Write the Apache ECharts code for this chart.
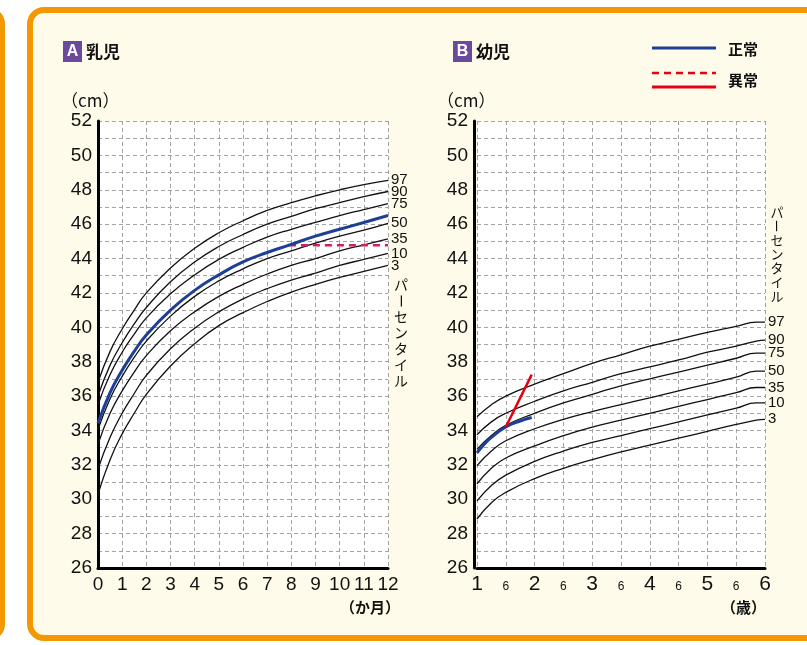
<!DOCTYPE html>
<html>
<head>
<meta charset="utf-8">
<script src="https://cdn.jsdelivr.net/npm/echarts@6/dist/echarts.min.js"></script>
<style>
html,body{margin:0;padding:0;background:#fff;}
#c{width:807px;height:645px;}
</style>
</head>
<body>
<div id="c"></div>
<script>
// ---------- data ----------
const percentileNames = ['97', '90', '75', '50', '35', '10', '3'];

// A: infants, months
const monthsA = [0, 0.5, 1, 1.5, 2, 3, 4, 5, 6, 7, 8, 9, 10, 11, 12];
const a97 = [36.8, 38.6, 39.9, 41.0, 42.0, 43.45, 44.6, 45.5, 46.2, 46.8, 47.25, 47.65, 48.0, 48.3, 48.55];
const a90 = [36.0, 37.8, 39.1, 40.2, 41.15, 42.65, 43.8, 44.7, 45.4, 46.0, 46.45, 46.9, 47.25, 47.6, 47.9];
const a75 = [35.5, 37.25, 38.55, 39.6, 40.55, 41.95, 43.05, 43.95, 44.65, 45.25, 45.7, 46.1, 46.5, 46.85, 47.2];
const a50 = [34.05, 35.85, 37.15, 38.25, 39.2, 40.65, 41.8, 42.7, 43.4, 44.0, 44.45, 44.9, 45.3, 45.65, 46.05];
const a35 = [33.2, 35.0, 36.3, 37.4, 38.35, 39.8, 40.9, 41.8, 42.5, 43.1, 43.6, 44.0, 44.45, 44.8, 45.15];
const a10 = [31.75, 33.6, 35.0, 36.15, 37.2, 38.75, 39.95, 40.9, 41.65, 42.25, 42.75, 43.15, 43.6, 43.95, 44.3];
const a3  = [30.3, 32.3, 33.8, 35.0, 36.1, 37.75, 39.05, 40.1, 40.85, 41.5, 42.05, 42.5, 42.9, 43.25, 43.6];
const normalMonthsA = [0, 0.5, 1, 1.5, 2, 3, 4, 5, 6, 7, 7.9, 9, 10, 11, 12];
const normalA = [34.4, 36.2, 37.5, 38.6, 39.55, 41.0, 42.15, 43.05, 43.8, 44.35, 44.78, 45.3, 45.7, 46.1, 46.5];
const abnormalMonthsA = [7.9, 12];
const abnormalA = [44.78, 44.78];

// B: young children, years
const yearsB = [1, 1.25, 1.5, 2, 2.5, 3, 3.5, 4, 4.5, 5, 5.5, 5.85, 6];
const b97 = [34.8, 35.5, 36.0, 36.7, 37.3, 37.9, 38.4, 38.9, 39.3, 39.7, 40.05, 40.3, 40.3];
const b90 = [33.75, 34.5, 35.0, 35.7, 36.3, 36.8, 37.3, 37.7, 38.1, 38.55, 38.9, 39.2, 39.25];
const b75 = [32.9, 33.7, 34.3, 35.0, 35.6, 36.1, 36.6, 37.0, 37.4, 37.8, 38.2, 38.5, 38.5];
const b50 = [31.95, 32.8, 33.4, 34.1, 34.65, 35.1, 35.5, 35.9, 36.3, 36.7, 37.1, 37.45, 37.45];
const b35 = [30.9, 31.8, 32.4, 33.1, 33.7, 34.2, 34.6, 35.0, 35.4, 35.8, 36.2, 36.5, 36.5];
const b10 = [29.9, 30.8, 31.4, 32.2, 32.8, 33.3, 33.7, 34.1, 34.5, 34.9, 35.3, 35.6, 35.6];
const b3  = [28.85, 29.8, 30.4, 31.2, 31.8, 32.3, 32.75, 33.15, 33.55, 33.95, 34.35, 34.6, 34.65];
const normalYearsB = [1, 1.1, 1.25, 1.5, 1.75, 1.95];
const normalB = [32.7, 33.1, 33.6, 34.2, 34.55, 34.75];
const abnormalYearsB = [1.5, 1.95];
const abnormalB = [34.2, 37.25];

// axis ticks
const yMin = 26, yMax = 52;
const xTicksA = [0, 12];
const xTicksB = [1, 6];
const halfYearLabel = '6';

// ---------- chart ----------
const FONT = '"Liberation Sans", Arial, sans-serif';
const JFONT = '"Noto Sans CJK JP", sans-serif';
const pair = (xs, ys) => xs.map((x, i) => [x, ys[i]]);
const gridColor = '#a3a3a3';
const SMOOTH = 0.5;

function yAxisCfg(gi, offset) {
  return {
    gridIndex: gi, type: 'value', min: yMin, max: yMax, interval: 1, offset: offset,
    axisLine: {show: true, onZero: false, lineStyle: {color: '#000', width: 3}},
    axisTick: {show: false},
    axisLabel: {fontSize: 19, color: '#111', fontFamily: FONT, margin: 6, padding: [4, 0, 0, 0],
      formatter: v => (v % 2 === 0 ? String(v) : '')},
    splitLine: {show: true, lineStyle: {color: gridColor, type: [4, 3], width: 1}}
  };
}
function xAxisBase(gi) {
  return {
    gridIndex: gi, type: 'value',
    axisLine: {show: true, onZero: false, lineStyle: {color: '#000', width: 3}},
    axisTick: {show: false},
    splitLine: {show: true, lineStyle: {color: gridColor, type: [4, 3], width: 1}}
  };
}

function pctSeries(name, xs, ys, gi) {
  return {
    name: name, type: 'line', xAxisIndex: gi, yAxisIndex: gi,
    data: pair(xs, ys), smooth: SMOOTH, showSymbol: false, symbol: 'none',
    lineStyle: {color: '#111', width: 1.3}, silent: true, z: 3,
    endLabel: {show: true, formatter: '{a}', color: '#111', fontSize: 15, fontFamily: FONT, distance: 3}
  };
}

const seriesA = [a97, a90, a75, a50, a35, a10, a3].map((d, i) => pctSeries(percentileNames[i], monthsA, d, 0));
const seriesB = [b97, b90, b75, b50, b35, b10, b3].map((d, i) => pctSeries(percentileNames[i], yearsB, d, 1));

function vText(str, x, y0, lh, fs) {
  const out = [];
  [...str].forEach((ch, i) => {
    const t = {type: 'text', x: x, y: y0 + i * lh,
      style: {text: ch, font: fs + 'px ' + JFONT, fill: '#111', align: 'center', verticalAlign: 'middle'}};
    if (ch === 'ー') { t.rotation = -Math.PI / 2; }
    out.push(t);
  });
  return out;
}

const orange = '#f39800';
const graphics = [
  {type: 'rect', z: -10, shape: {x: 30, y: 10, width: 820, height: 628, r: 14},
    style: {fill: '#fffbea', stroke: orange, lineWidth: 6}},
  {type: 'rect', z: -10, shape: {x: -40, y: 10, width: 42, height: 628, r: 14},
    style: {fill: '#fff', stroke: orange, lineWidth: 6}},
  // titles
  {type: 'rect', shape: {x: 63, y: 41, width: 19, height: 21}, style: {fill: '#6b4a9e'}},
  {type: 'text', x: 72.5, y: 52, style: {text: 'A', font: 'bold 16px ' + FONT, fill: '#fff', align: 'center', verticalAlign: 'middle'}},
  {type: 'text', x: 86, y: 52, style: {text: '乳児', font: 'bold 17px ' + JFONT, fill: '#111', verticalAlign: 'middle'}},
  {type: 'rect', shape: {x: 453, y: 41, width: 19, height: 21}, style: {fill: '#6b4a9e'}},
  {type: 'text', x: 462.5, y: 52, style: {text: 'B', font: 'bold 16px ' + FONT, fill: '#fff', align: 'center', verticalAlign: 'middle'}},
  {type: 'text', x: 476, y: 52, style: {text: '幼児', font: 'bold 17px ' + JFONT, fill: '#111', verticalAlign: 'middle'}},
  // legend
  {type: 'line', shape: {x1: 652, y1: 48, x2: 716, y2: 48}, style: {stroke: '#1e3f96', lineWidth: 3}},
  {type: 'text', x: 728, y: 49, style: {text: '正常', font: 'bold 15px ' + JFONT, fill: '#111', verticalAlign: 'middle'}},
  {type: 'line', shape: {x1: 652, y1: 73, x2: 716, y2: 73}, style: {stroke: '#e60012', lineWidth: 2.5, lineDash: [7, 5]}},
  {type: 'line', shape: {x1: 652, y1: 87, x2: 716, y2: 87}, style: {stroke: '#e60012', lineWidth: 3}},
  {type: 'text', x: 728, y: 80, style: {text: '異常', font: 'bold 15px ' + JFONT, fill: '#111', verticalAlign: 'middle'}},
  // units
  {type: 'text', x: 61, y: 101, style: {text: '（cm）', font: '17px ' + JFONT, fill: '#111', verticalAlign: 'middle'}},
  {type: 'text', x: 437, y: 101, style: {text: '（cm）', font: '17px ' + JFONT, fill: '#111', verticalAlign: 'middle'}},
  {type: 'text', x: 400, y: 607, style: {text: '（か月）', font: 'bold 15px ' + JFONT, fill: '#111', align: 'right', verticalAlign: 'middle'}},
  {type: 'text', x: 766, y: 607, style: {text: '（歳）', font: 'bold 15px ' + JFONT, fill: '#111', align: 'right', verticalAlign: 'middle'}}
].concat(vText('パーセンタイル', 401, 285, 16, 14), vText('パーセンタイル', 777, 212, 14, 13));

const option = {
  backgroundColor: '#fff',
  animation: false,
  grid: [
    {left: 98, top: 121, width: 290, height: 447, show: true, backgroundColor: '#fff', borderWidth: 0},
    {left: 477, top: 121, width: 288, height: 447, show: true, backgroundColor: '#fff', borderWidth: 0}
  ],
  xAxis: [
    Object.assign(xAxisBase(0), {min: xTicksA[0], max: xTicksA[1], interval: 1,
      axisLabel: {fontSize: 19, color: '#111', fontFamily: FONT, margin: 7}}),
    Object.assign(xAxisBase(1), {min: xTicksB[0], max: xTicksB[1], interval: 0.5,
      axisLabel: {color: '#111', fontFamily: FONT, margin: 6,
        formatter: v => (Number.isInteger(v) ? '{b|' + v + '}' : '{s|' + halfYearLabel + '}'),
        rich: {b: {fontSize: 21, fontFamily: FONT, color: '#111'},
               s: {fontSize: 12, fontFamily: FONT, color: '#111', padding: [7, 0, 0, 0]}}}})
  ],
  yAxis: [yAxisCfg(0, 0), yAxisCfg(1, 3)],
  graphic: graphics,
  series: seriesA.concat([
    {type: 'line', xAxisIndex: 0, yAxisIndex: 0, data: pair(normalMonthsA, normalA), smooth: SMOOTH,
      showSymbol: false, symbol: 'none', lineStyle: {color: '#1e3f96', width: 3}, z: 5, silent: true},
    {type: 'line', xAxisIndex: 0, yAxisIndex: 0, data: pair(abnormalMonthsA, abnormalA),
      showSymbol: false, symbol: 'none', lineStyle: {color: '#d81b5b', width: 2.5, type: [7, 5]}, z: 4, silent: true}
  ], seriesB, [
    {type: 'line', xAxisIndex: 1, yAxisIndex: 1, data: pair(normalYearsB, normalB), smooth: SMOOTH,
      showSymbol: false, symbol: 'none', lineStyle: {color: '#1e3f96', width: 3}, z: 5, silent: true},
    {type: 'line', xAxisIndex: 1, yAxisIndex: 1, data: pair(abnormalYearsB, abnormalB),
      showSymbol: false, symbol: 'none', lineStyle: {color: '#e60012', width: 2.5}, z: 6, silent: true}
  ])
};

const chart = echarts.init(document.getElementById('c'), null, {renderer: 'canvas'});
chart.setOption(option);
</script>
</body>
</html>
